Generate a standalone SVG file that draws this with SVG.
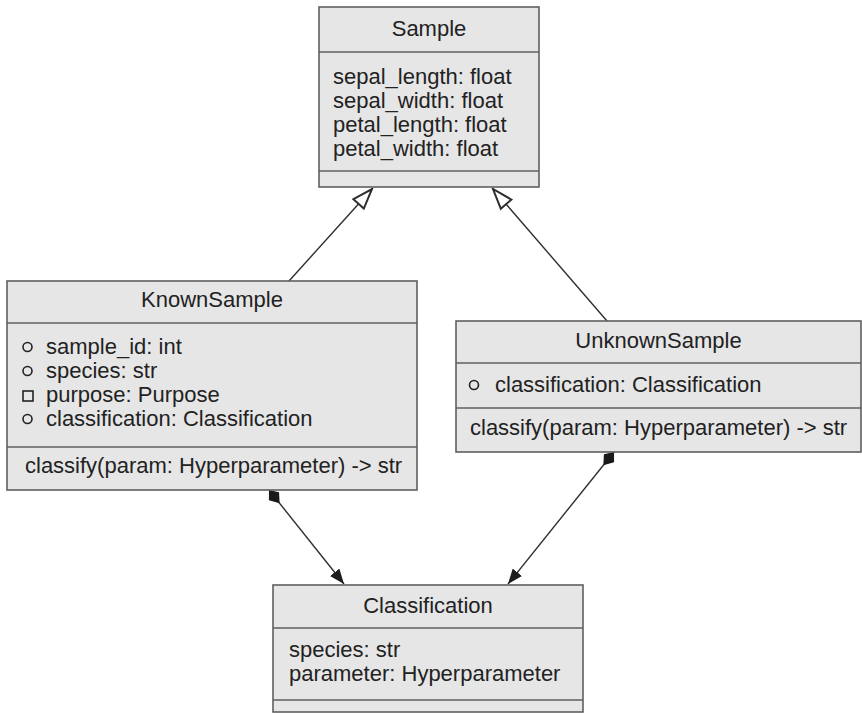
<svg xmlns="http://www.w3.org/2000/svg" width="862" height="713" viewBox="0 0 862 713">
  <style>
    .box { fill: #e6e6e6; stroke: #5f5f5f; stroke-width: 1.6; }
    .sep { stroke: #5f5f5f; stroke-width: 1.6; fill: none; }
    text { font-family: "Liberation Sans", Arial, sans-serif; font-size: 22px; fill: #222222; }
    .title { text-anchor: middle; }
    .vis { fill: none; stroke: #222222; stroke-width: 1.6; }
    .edge { fill: none; stroke: #2e2e2e; stroke-width: 1.4; }
  </style>
  <defs>
    <marker id="inherit" markerUnits="userSpaceOnUse" viewBox="-2 -2 24 18" markerWidth="24" markerHeight="18" refX="20" refY="7" orient="auto">
      <path d="M0,0 L20,7 L0,14 Z" fill="#ffffff" stroke="#2e2e2e" stroke-width="2"/>
    </marker>
    <marker id="arrow" markerUnits="userSpaceOnUse" viewBox="0 0 16 12" markerWidth="16" markerHeight="12" refX="15" refY="6" orient="auto">
      <path d="M0,0 L15,6 L0,12 Z" fill="#1e1e1e"/>
    </marker>
    <marker id="diamond" markerUnits="userSpaceOnUse" viewBox="0 0 18 14" markerWidth="18" markerHeight="14" refX="0" refY="7" orient="auto">
      <path d="M0,7 L8,0.5 L17,7 L8,13.5 Z" fill="#1a1a1a"/>
    </marker>
  </defs>

  <!-- connectors -->
  <g id="connectors">
    <path class="edge" d="M289,281 L372,189" marker-end="url(#inherit)"/>
    <path class="edge" d="M607,321 L493,189" marker-end="url(#inherit)"/>
    <path class="edge" d="M269,490 L344,584" marker-start="url(#diamond)" marker-end="url(#arrow)"/>
    <path class="edge" d="M614,452 L508,584" marker-start="url(#diamond)" marker-end="url(#arrow)"/>
  </g>

  <!-- Sample -->
  <g id="Sample">
    <rect class="box" x="319" y="7" width="220" height="180"/>
    <line class="sep" x1="319" y1="52" x2="539" y2="52"/>
    <line class="sep" x1="319" y1="171" x2="539" y2="171"/>
    <text class="title" x="429" y="36">Sample</text>
    <text x="333" y="84">sepal_length: float</text>
    <text x="333" y="108">sepal_width: float</text>
    <text x="333" y="132">petal_length: float</text>
    <text x="333" y="156">petal_width: float</text>
  </g>

  <!-- KnownSample -->
  <g id="KnownSample">
    <rect class="box" x="7" y="281" width="410" height="209"/>
    <line class="sep" x1="7" y1="323" x2="417" y2="323"/>
    <line class="sep" x1="7" y1="447" x2="417" y2="447"/>
    <text class="title" x="212" y="307">KnownSample</text>
    <circle class="vis" cx="27.5" cy="347" r="4.5"/>
    <text x="46" y="354">sample_id: int</text>
    <circle class="vis" cx="27.5" cy="371" r="4.5"/>
    <text x="46" y="378">species: str</text>
    <rect class="vis" x="23" y="391" width="10" height="10"/>
    <text x="46" y="402">purpose: Purpose</text>
    <circle class="vis" cx="27.5" cy="419" r="4.5"/>
    <text x="46" y="426">classification: Classification</text>
    <text x="25" y="473">classify(param: Hyperparameter) -&gt; str</text>
  </g>

  <!-- UnknownSample -->
  <g id="UnknownSample">
    <rect class="box" x="456" y="321" width="405" height="131"/>
    <line class="sep" x1="456" y1="363" x2="861" y2="363"/>
    <line class="sep" x1="456" y1="408" x2="861" y2="408"/>
    <text class="title" x="658.5" y="348">UnknownSample</text>
    <circle class="vis" cx="474" cy="385" r="4.5"/>
    <text x="495" y="392">classification: Classification</text>
    <text x="470" y="435">classify(param: Hyperparameter) -&gt; str</text>
  </g>

  <!-- Classification -->
  <g id="Classification">
    <rect class="box" x="273" y="585" width="310" height="127"/>
    <line class="sep" x1="273" y1="628" x2="583" y2="628"/>
    <line class="sep" x1="273" y1="700" x2="583" y2="700"/>
    <text class="title" x="428" y="613">Classification</text>
    <text x="289" y="657">species: str</text>
    <text x="289" y="681">parameter: Hyperparameter</text>
  </g>
</svg>
